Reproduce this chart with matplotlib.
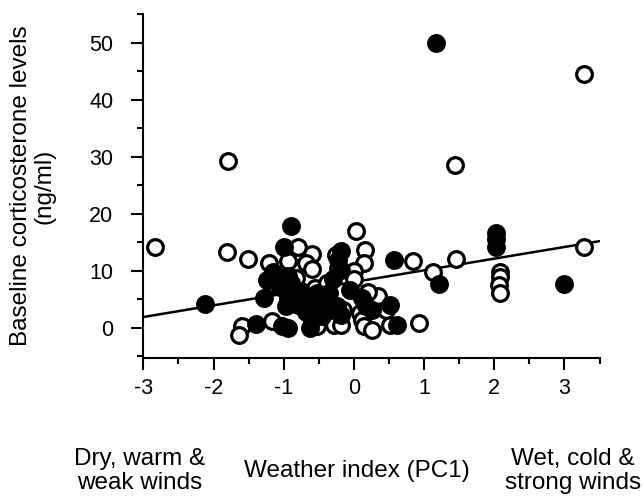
import numpy as np
import matplotlib
matplotlib.use("Agg")
import matplotlib.pyplot as plt
from matplotlib.ticker import MultipleLocator

plt.rcParams['font.family'] = ['Liberation Sans', 'DejaVu Sans']
plt.rcParams['axes.unicode_minus'] = False

# Open circles (weather index, corticosterone)
open_x = [-2.84, -1.79, -1.81, -1.51, -1.21, -1.60, -1.63, -1.16, -1.12, -0.94,
          -0.79, -0.59, -0.68, -0.59, -0.83, -0.70, -0.55, -0.39, -0.43, -0.53,
          -0.28, -0.18, -0.59, -0.25, -0.22, 0.03, 0.16, 0.15, 0.00, 0.00,
          0.08, 0.11, 0.15, 0.26, 0.35, 0.20, 0.52, 0.84, 0.93, 1.12,
          1.44, 1.45, 2.08, 2.08, 2.07, 2.08, 3.28, 3.28, -0.95, -0.35,
          0.45, -0.15]
open_y = [14.1, 29.3, 13.2, 12.1, 11.4, 0.3, -1.3, 1.1, 7.5, 11.6,
          14.2, 13.0, 11.3, 10.3, 8.7, 5.5, 7.0, 7.8, 1.6, 0.2,
          0.5, 0.5, 2.5, 12.8, 10.5, 16.9, 13.7, 11.3, 10.0, 8.5,
          2.5, 1.3, 0.2, -0.5, 5.5, 6.3, 0.5, 11.6, 0.8, 9.7,
          28.5, 12.1, 9.8, 8.9, 7.4, 6.0, 44.5, 14.1, 6.5, 4.0,
          3.0, 3.0]

# Filled circles
filled_x = [1.17, -2.12, -1.28, -1.39, -0.89, -1.00, -1.15, -1.24, -1.06, -0.94,
            -0.89, -0.94, -0.97, -1.02, -0.94, -0.62, -0.71, -0.68, -0.53, -0.42,
            -0.36, -0.24, -0.18, -0.59, -0.06, -0.18, -0.18, -0.23, -0.30, 0.11,
            0.17, 0.26, 0.52, 0.61, 0.57, 1.21, 2.03, 2.03, 2.03, 3.00,
            -0.80, -0.45, -0.75, -0.50]
filled_y = [50.0, 4.2, 5.2, 0.7, 17.8, 14.2, 9.8, 8.4, 7.2, 9.0,
            7.8, 5.2, 3.7, 0.2, 0.0, 0.0, 4.9, 2.8, 6.0, 4.6,
            6.0, 3.7, 2.2, 1.3, 6.6, 10.1, 13.5, 11.9, 8.5, 5.2,
            3.7, 3.1, 4.0, 0.5, 11.9, 7.7, 16.6, 15.5, 14.2, 7.7,
            4.0, 2.0, 6.5, 3.5]

# Regression line
reg_intercept = 8.0
reg_slope = 2.05
x_range = [-3.0, 3.5]

x_ticks = [-3, -2, -1, 0, 1, 2, 3]
y_ticks = [0, 10, 20, 30, 40, 50]

fig = plt.figure(figsize=(6.43, 4.98), dpi=100)
ax = fig.add_axes([0.2229, 0.2817, 0.7096, 0.6894])

lx = np.array(x_range)
ax.plot(lx, reg_intercept + reg_slope * lx, color='black', lw=1.8, zorder=1)

ax.plot(open_x, open_y, linestyle='none', marker='o', ms=11.3, mew=2.3,
        mfc='white', mec='black', zorder=2)
ax.plot(filled_x, filled_y, linestyle='none', marker='o', ms=11.3, mew=2.3,
        mfc='black', mec='black', zorder=3)

ax.set_xlim(-3, 3.5)
ax.set_ylim(-5.3, 55)
ax.set_xticks(x_ticks)
ax.set_yticks(y_ticks)
ax.xaxis.set_minor_locator(MultipleLocator(0.5))
ax.yaxis.set_minor_locator(MultipleLocator(5))

for s in ['top', 'right']:
    ax.spines[s].set_visible(False)
for s in ['left', 'bottom']:
    ax.spines[s].set_linewidth(1.5)

ax.tick_params(which='major', direction='out', length=8.6, width=1.5,
               labelsize=15.5)
ax.tick_params(axis='y', which='major', pad=13)
ax.tick_params(axis='x', which='major', pad=6)
ax.tick_params(which='minor', direction='out', length=4.3, width=1.5)

fig.text(33 / 643, 0.6265, "Baseline corticosterone levels\n(ng/ml)",
         rotation=90, ha='center', va='center', multialignment='center',
         fontsize=17.5, linespacing=1.1)

fig.text(140 / 643, 1 - 471 / 498, "Dry, warm &\nweak winds",
         ha='center', va='center', multialignment='center', fontsize=17.5,
         linespacing=1.1)
fig.text(357 / 643, 1 - 471 / 498, "Weather index (PC1)",
         ha='center', va='center', fontsize=17.5)
fig.text(573 / 643, 1 - 471 / 498, "Wet, cold &\nstrong winds",
         ha='center', va='center', multialignment='center', fontsize=17.5,
         linespacing=1.1)

fig.savefig("out.png", dpi=100)
